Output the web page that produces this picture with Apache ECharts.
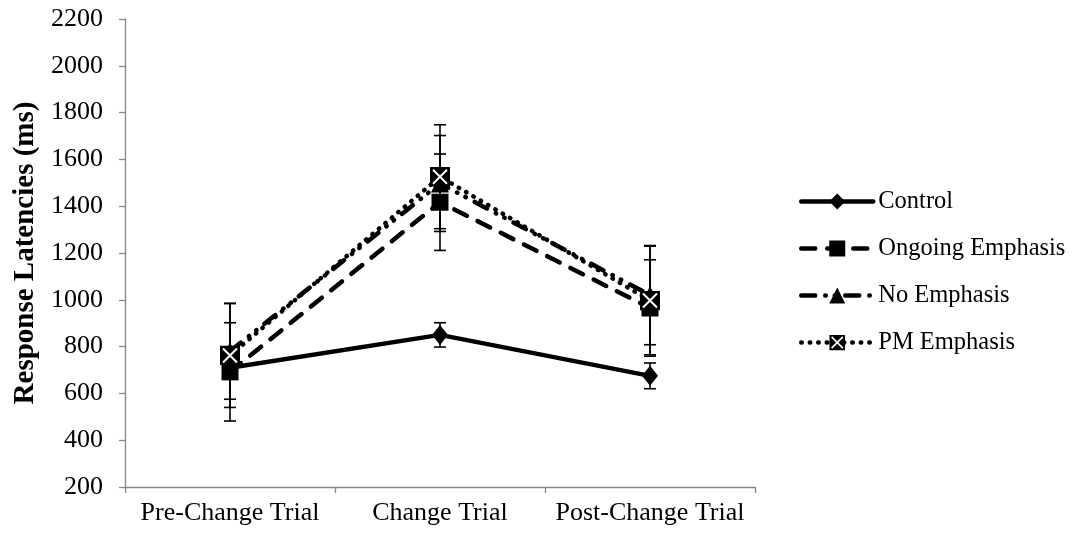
<!DOCTYPE html>
<html><head><meta charset="utf-8">
<script src="https://cdn.jsdelivr.net/npm/echarts@6/dist/echarts.min.js"></script>
<style>html,body{margin:0;padding:0;background:#fff}#c{width:1083px;height:533px}</style>
</head><body><div id="c"></div>
<script>
const categories = ['Pre-Change Trial', 'Change Trial', 'Post-Change Trial'];
const seriesNames = ['Control', 'Ongoing Emphasis', 'No Emphasis', 'PM Emphasis'];
const control = [710, 850, 675];
const controlErr = [35, 52, 55];
const ongoing = [692, 1417, 965];
const ongoingErr = [210, 206, 206];
const noEmphasis = [780, 1497, 1020];
const noEmphasisErr = [205, 205, 212];
const pmEmphasis = [762, 1526, 997];
const pmEmphasisErr = [222, 222, 232];
const yTicks = [200, 400, 600, 800, 1000, 1200, 1400, 1600, 1800, 2000, 2200];

const FONT = '"Liberation Serif", "Times New Roman", serif';
const xbox = 'image://data:image/svg+xml;utf8,' + encodeURIComponent(
  "<svg xmlns='http://www.w3.org/2000/svg' width='40' height='40'><rect width='40' height='40' fill='black'/><path d='M6 6L34 34M34 6L6 34' stroke='white' stroke-width='4'/></svg>");

function errData(vals, errs) { return vals.map((v, i) => [i, v - errs[i], v + errs[i]]); }
function errSeries(vals, errs) {
  return {
    type: 'custom', z: 1, silent: true,
    data: errData(vals, errs),
    renderItem: function (params, api) {
      const lo = api.coord([api.value(0), api.value(1)]);
      const hi = api.coord([api.value(0), api.value(2)]);
      const w = 6;
      const st = { stroke: '#000', lineWidth: 1.6 };
      return { type: 'group', children: [
        { type: 'line', shape: { x1: hi[0], y1: hi[1], x2: lo[0], y2: lo[1] }, style: st },
        { type: 'line', shape: { x1: hi[0] - w, y1: hi[1], x2: hi[0] + w, y2: hi[1] }, style: st },
        { type: 'line', shape: { x1: lo[0] - w, y1: lo[1], x2: lo[0] + w, y2: lo[1] }, style: st }
      ]};
    }
  };
}
function lineSeries(name, data, symbol, size, type) {
  return {
    name: name, type: 'line', data: data, z: 3,
    symbol: symbol, symbolSize: size, showSymbol: true,
    itemStyle: { color: '#000', borderWidth: 0 },
    lineStyle: { color: '#000', width: 4.5, type: type, cap: 'round' },
    emphasis: { disabled: true }, animation: false
  };
}

const chart = echarts.init(document.getElementById('c'));
chart.setOption({
  animation: false,
  grid: { left: 125, right: 328, top: 19, bottom: 46, containLabel: false, outerBoundsMode: 'none' },
  xAxis: {
    type: 'category', data: categories, boundaryGap: true,
    axisLine: { lineStyle: { color: '#868686', width: 1.3 } },
    axisTick: { show: true, length: 6, lineStyle: { color: '#868686', width: 1.3 } },
    axisLabel: { color: '#000', fontFamily: FONT, fontSize: 26, margin: 13, interval: 0 }
  },
  yAxis: {
    type: 'value', min: yTicks[0], max: yTicks[yTicks.length - 1], interval: 200,
    name: 'Response Latencies (ms)', nameLocation: 'middle', nameGap: 83, nameRotate: 90,
    nameTextStyle: { color: '#000', fontFamily: FONT, fontSize: 29, fontWeight: 'bold' },
    axisLine: { show: true, lineStyle: { color: '#868686', width: 1.3 } },
    axisTick: { show: true, length: 6, lineStyle: { color: '#868686', width: 1.3 } },
    splitLine: { show: false },
    axisLabel: { color: '#000', fontFamily: FONT, fontSize: 26, margin: 22, formatter: v => String(v) }
  },
  legend: {
    orient: 'vertical', left: 794, top: 184, itemGap: 22,
    itemWidth: 72, itemHeight: 20,
    data: seriesNames,
    lineStyle: { width: 4.5 },
    textStyle: { color: '#000', fontFamily: FONT, fontSize: 24.5, padding: [0, 0, 0, 0] }
  },
  series: [
    errSeries(control, controlErr),
    errSeries(ongoing, ongoingErr),
    errSeries(noEmphasis, noEmphasisErr),
    errSeries(pmEmphasis, pmEmphasisErr),
    lineSeries('Control', control, 'diamond', [16, 20], 'solid'),
    lineSeries('Ongoing Emphasis', ongoing, 'rect', 17, [14, 12]),
    lineSeries('No Emphasis', noEmphasis, 'triangle', 18, [14, 10, 0.5, 9, 0.5, 10]),
    lineSeries('PM Emphasis', pmEmphasis, xbox, 20, [0.5, 8])
  ]
});
</script></body></html>
